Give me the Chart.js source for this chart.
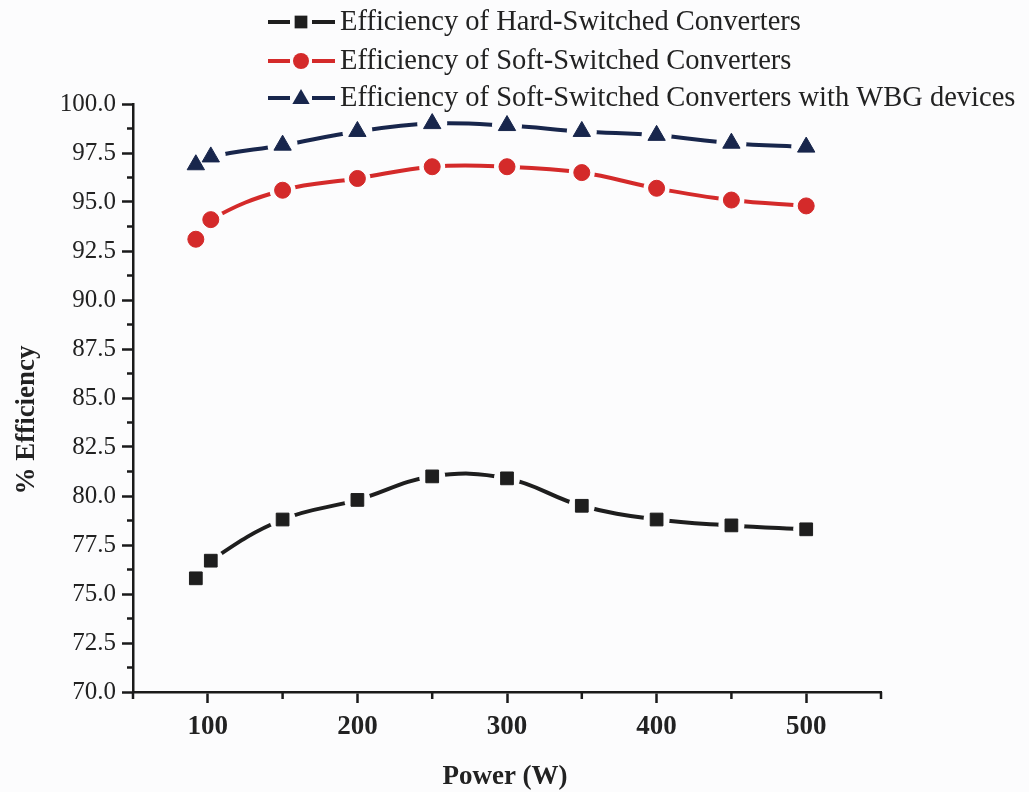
<!DOCTYPE html>
<html>
<head>
<meta charset="utf-8">
<title>Converter efficiency</title>
<script src="https://cdn.jsdelivr.net/npm/chart.js@4.4.0/dist/chart.umd.min.js"></script>
<style>
  html, body { margin: 0; padding: 0; background: #fcfcfd; }
  #wrap { width: 1029px; height: 792px; position: relative; }
</style>
</head>
<body>
<div id="wrap"><canvas id="c-eff"></canvas></div>
<script>
// data
const powerW = [92, 102, 150, 200, 250, 300, 350, 400, 450, 500];
const hardEff = [75.8, 76.7, 78.8, 79.8, 81.0, 80.9, 79.5, 78.8, 78.5, 78.3];
const softEff = [93.1, 94.1, 95.6, 96.2, 96.8, 96.8, 96.5, 95.7, 95.1, 94.8];
const wbgEff = [96.9, 97.3, 97.9, 98.6, 99.0, 98.9, 98.6, 98.4, 98.0, 97.8];

const seriesNames = [
  'Efficiency of Hard-Switched Converters',
  'Efficiency of Soft-Switched Converters',
  'Efficiency of Soft-Switched Converters with WBG devices'
];

const xTicks = [100, 200, 300, 400, 500];
const xMinor = [50, 150, 250, 350, 450, 550];
const yTicks = [70, 72.5, 75, 77.5, 80, 82.5, 85, 87.5, 90, 92.5, 95, 97.5, 100];
const yMinor = [71.25, 73.75, 76.25, 78.75, 81.25, 83.75, 86.25, 88.75, 91.25, 93.75, 96.25, 98.75];

const xTitle = 'Power (W)';
const yTitle = '% Efficiency';

const serif = '"Liberation Serif", "Times New Roman", serif';

const styles = [
  { color: '#1e1e1e', shape: 'rect', r: 9, halo: 13 },
  { color: '#d42a2a', shape: 'circle', r: 8, halo: 13 },
  { color: '#18264c', shape: 'triangle', r: 10, halo: 15 }
];
const allSeries = [hardEff, softEff, wbgEff];

const pts = arr => arr.map((v, i) => ({ x: powerW[i], y: v }));

// each series = line (bottom), white halo (gap round markers), markers (top)
const datasets = [];
allSeries.forEach((arr, i) => {
  const s = styles[i];
  datasets.push({ label: seriesNames[i], data: pts(arr), borderColor: s.color, borderWidth: 4, pointRadius: 0, tension: 0.4, order: 3, fill: false });
  datasets.push({ label: '', data: pts(arr), showLine: false, pointStyle: 'circle', pointRadius: s.halo, pointBackgroundColor: '#fcfcfd', pointBorderWidth: 0, order: 2 });
  datasets.push({ label: '', data: pts(arr), showLine: false, pointStyle: s.shape, pointRadius: s.r, pointBackgroundColor: s.color, pointBorderColor: s.color, pointBorderWidth: 1, order: 1 });
});

function drawShape(ctx, shape, x, y, r) {
  ctx.beginPath();
  if (shape === 'rect') {
    const h = Math.SQRT1_2 * r;
    ctx.rect(x - h, y - h, 2 * h, 2 * h);
  } else if (shape === 'circle') {
    ctx.arc(x, y, r, 0, Math.PI * 2);
  } else {
    ctx.moveTo(x, y - r);
    ctx.lineTo(x + Math.sin(Math.PI * 2 / 3) * r, y + r / 2);
    ctx.lineTo(x - Math.sin(Math.PI * 2 / 3) * r, y + r / 2);
    ctx.closePath();
  }
  ctx.fill();
}

// minor ticks, axis titles and the legend block
const extras = {
  id: 'extras',
  afterDraw(chart) {
    const ctx = chart.ctx;
    const xs = chart.scales.x, ys = chart.scales.y;
    const a = chart.chartArea;
    ctx.save();
    ctx.strokeStyle = '#1a1a1a';
    ctx.lineWidth = 2.5;
    yMinor.forEach(v => {
      const p = ys.getPixelForValue(v);
      ctx.beginPath(); ctx.moveTo(a.left, p); ctx.lineTo(a.left - 6, p); ctx.stroke();
    });
    xMinor.forEach(v => {
      const p = xs.getPixelForValue(v);
      ctx.beginPath(); ctx.moveTo(p, a.bottom); ctx.lineTo(p, a.bottom + 7); ctx.stroke();
    });

    // axis titles
    ctx.fillStyle = '#222';
    ctx.font = 'bold 27px ' + serif;
    ctx.textAlign = 'center';
    ctx.textBaseline = 'middle';
    ctx.fillText(xTitle, 505, 777);
    ctx.save();
    ctx.translate(27, 420);
    ctx.rotate(-Math.PI / 2);
    ctx.fillText(yTitle, 0, 0);
    ctx.restore();

    // legend
    const rows = [22, 61, 98];
    ctx.font = '28.5px ' + serif;
    ctx.textAlign = 'left';
    styles.forEach((s, i) => {
      const y = rows[i];
      ctx.strokeStyle = s.color;
      ctx.lineWidth = 4;
      ctx.beginPath(); ctx.moveTo(268, y); ctx.lineTo(290, y); ctx.stroke();
      ctx.beginPath(); ctx.moveTo(312, y); ctx.lineTo(335, y); ctx.stroke();
      ctx.fillStyle = s.color;
      drawShape(ctx, s.shape, 301, y + (s.shape === 'triangle' ? 1 : 0), s.r);
      ctx.fillStyle = '#222';
      ctx.fillText(seriesNames[i], 340, y + 1);
    });
    ctx.restore();
  }
};

new Chart(document.getElementById('c-eff'), {
  type: 'line',
  data: { datasets },
  options: {
    responsive: true,
    maintainAspectRatio: false,
    animation: false,
    layout: { padding: { top: 104, right: 148, left: 0, bottom: 0 } },
    plugins: { legend: { display: false }, tooltip: { enabled: false } },
    scales: {
      x: {
        type: 'linear', min: 50, max: 550,
        afterBuildTicks: s => { s.ticks = xTicks.map(v => ({ value: v })); },
        afterFit: s => { s.height = 100; },
        border: { color: '#1a1a1a', width: 2.5 },
        grid: { drawOnChartArea: false, color: '#1a1a1a', tickLength: 11, tickWidth: 2.5 },
        ticks: { color: '#222', padding: 8, maxRotation: 0, font: { family: serif, size: 27, weight: 'bold' } },
        title: { display: false }
      },
      y: {
        type: 'linear', min: 70, max: 100,
        afterBuildTicks: s => { s.ticks = yTicks.map(v => ({ value: v })); },
        afterFit: s => { s.width = 133; },
        border: { color: '#1a1a1a', width: 2.5 },
        grid: { drawOnChartArea: false, color: '#1a1a1a', tickLength: 11, tickWidth: 2.5 },
        ticks: { color: '#222', padding: 6, callback: v => Number(v).toFixed(1), font: { family: serif, size: 25 } },
        title: { display: false }
      }
    }
  },
  plugins: [extras]
});
</script>
</body>
</html>
